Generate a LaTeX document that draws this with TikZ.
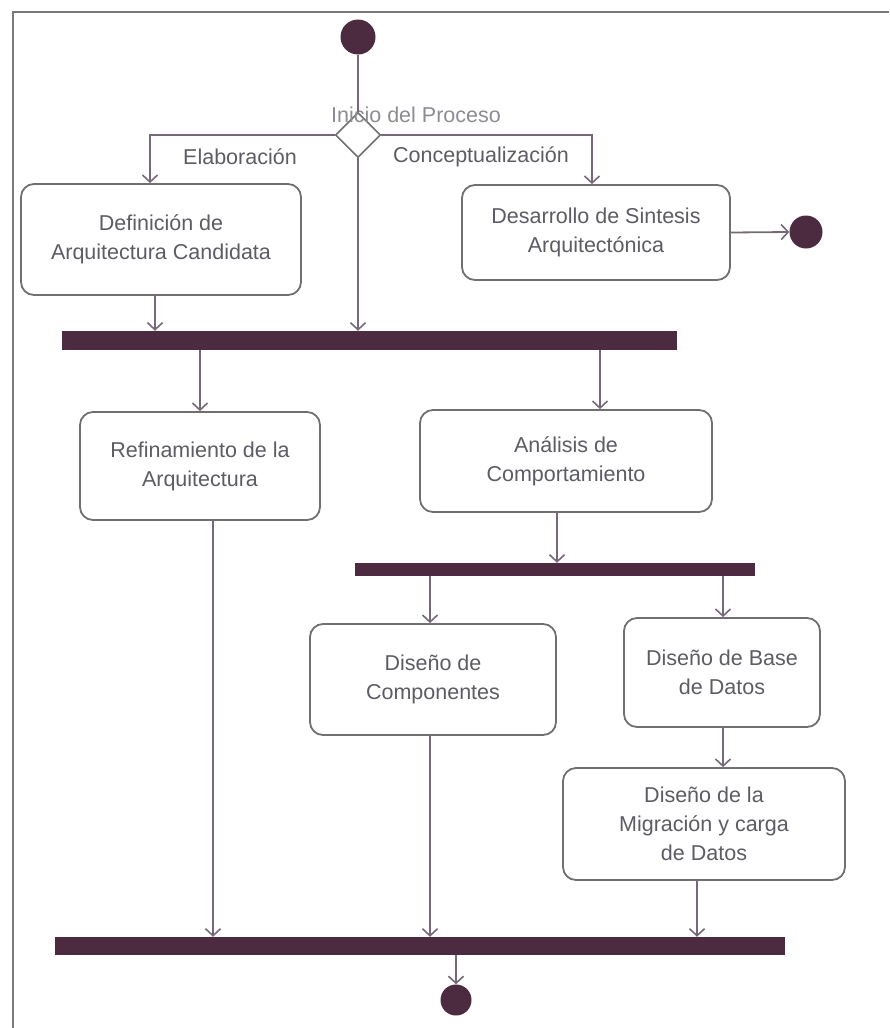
\documentclass[tikz,border=0pt]{standalone}
\usepackage{fontspec}
\setmainfont{Liberation Sans}
\usetikzlibrary{arrows.meta,shapes.geometric}
\definecolor{barcol}{RGB}{76,42,64}
\definecolor{linecol}{RGB}{118,104,120}
\definecolor{boxcol}{RGB}{112,112,114}
\definecolor{txtcol}{RGB}{92,92,100}
\definecolor{lbltxt}{RGB}{140,140,148}
\definecolor{framecol}{RGB}{120,120,126}
\begin{document}
\begin{tikzpicture}[x=1pt,y=-1pt,
  every node/.style={font=\fontsize{21.5}{29}\selectfont, text=txtcol},
  activity/.style={draw=boxcol, line width=1.8pt, rounded corners=13pt, fill=white,
    align=center, inner sep=0pt, minimum width=#1},
  syncbar/.style={fill=barcol, draw=none, inner sep=0pt, minimum width=#1},
  dot/.style={circle, fill=barcol, draw=none, inner sep=0pt, minimum size=#1},
  choice/.style={diamond, draw=boxcol, line width=1.6pt, fill=white, inner sep=0pt,
    minimum width=45pt, minimum height=45pt, aspect=1},
  conn/.style={draw=linecol, line width=1.8pt,
    -{Straight Barb[length=7pt,width=15pt,line width=1.6pt]}},
  plain/.style={draw=linecol, line width=1.8pt},
  lbl/.style={inner sep=0pt}
]
\useasboundingbox (0,0) rectangle (889,1028);
% outer frame (left and top edges)
\draw[framecol, line width=1.8pt] (13,1028) -- (13,12) -- (889,12);

% start, decision and final states
\node[dot=35pt] (start) at (358,37) {};
\node[choice] (dec) at (358,135) {};
\node[lbl, text=lbltxt] (declbl) at (416,115) {Inicio del Proceso};
\node[lbl] (elab) at (240,157) {Elaboración};
\node[lbl] (conc) at (481,157) {Conceptualización};
\node[dot=33pt] (endR) at (806,232) {};
\node[dot=31pt] (endB) at (456,1000) {};

% activities
\node[activity=280pt, minimum height=111pt] (box1) at (161,239.5)
  {Definición de\\Arquitectura Candidata};
\node[activity=268pt, minimum height=95pt] (box2) at (596,232.5)
  {Desarrollo de Sintesis\\Arquitectónica};
\node[activity=240pt, minimum height=108pt] (box3) at (200,466)
  {Refinamiento de la\\Arquitectura};
\node[activity=292pt, minimum height=102pt] (box4) at (566,461)
  {Análisis de\\Comportamiento};
\node[activity=246pt, minimum height=111pt] (box5) at (433,679.5)
  {Diseño de\\Componentes};
\node[activity=196pt, minimum height=109pt] (box6) at (722,672.5)
  {Diseño de Base\\de Datos};
\node[activity=282pt, minimum height=112pt] (box7) at (704,824)
  {Diseño de la\\Migración y carga\\de Datos};

% synchronisation bars
\node[syncbar=615pt, minimum height=19pt] (bar1) at (369.5,340.5) {};
\node[syncbar=400pt, minimum height=13pt] (bar2) at (555,569.5) {};
\node[syncbar=730pt, minimum height=18pt] (bar3) at (420,946) {};

% attachment points of connectors
\coordinate (elabIn) at ([xshift=-11pt]box1.north);
\coordinate (concIn) at ([xshift=-4pt]box2.north);
\coordinate (b1out) at ([xshift=-6pt]box1.south);
\coordinate (b4in) at ([xshift=34pt]box4.north);
\coordinate (b4out) at ([xshift=-9pt]box4.south);
\coordinate (b5in) at ([xshift=-3pt]box5.north);
\coordinate (b6in) at ([xshift=1pt]box6.north);
\coordinate (b3out) at ([xshift=13pt]box3.south);
\coordinate (b5out) at ([xshift=-3pt]box5.south);
\coordinate (b7out) at ([xshift=-7pt]box7.south);

% connectors
\draw[plain] (start.south) -- (dec.north);
\draw[conn] (dec.west) -| (elabIn);
\draw[conn] (dec.east) -| (concIn);
\draw[conn] (dec.south) -- (dec.south |- bar1.north);
\draw[conn] (b1out) -- (b1out |- bar1.north);
\draw[conn] (box2.east) -- (endR.west);
\draw[conn] (box3.north |- bar1.south) -- (box3.north);
\draw[conn] (b4in |- bar1.south) -- (b4in);
\draw[conn] (b4out) -- (b4out |- bar2.north);
\draw[conn] (b5in |- bar2.south) -- (b5in);
\draw[conn] (b6in |- bar2.south) -- (b6in);
\draw[conn] (b6in |- box6.south) -- (b6in |- box7.north);
\draw[conn] (b3out) -- (b3out |- bar3.north);
\draw[conn] (b5out) -- (b5out |- bar3.north);
\draw[conn] (b7out) -- (b7out |- bar3.north);
\draw[conn] (endB.north |- bar3.south) -- (endB.north);
\end{tikzpicture}
\end{document}
